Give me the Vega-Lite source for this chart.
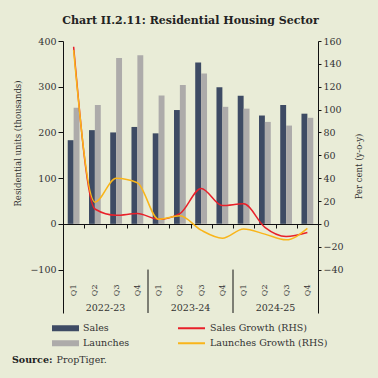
{
  "$schema": "https://vega.github.io/schema/vega-lite/v6.json",
  "width": 255,
  "height": 272,
  "autosize": {"type": "none"},
  "padding": {"left": 63, "top": 41, "right": 60, "bottom": 65},
  "background": "#E9ECD7",
  "title": {"text": "Chart II.2.11: Residential Housing Sector", "font": "DejaVu Serif", "fontSize": 11, "fontWeight": "bold", "color": "#222", "offset": 10, "anchor": "middle"},
  "datasets": {
    "bars": [
      {"q": "2022-23 Q1", "series": "Sales", "value": 183},
      {"q": "2022-23 Q2", "series": "Sales", "value": 205},
      {"q": "2022-23 Q3", "series": "Sales", "value": 200},
      {"q": "2022-23 Q4", "series": "Sales", "value": 212},
      {"q": "2023-24 Q1", "series": "Sales", "value": 198},
      {"q": "2023-24 Q2", "series": "Sales", "value": 249},
      {"q": "2023-24 Q3", "series": "Sales", "value": 353},
      {"q": "2023-24 Q4", "series": "Sales", "value": 299},
      {"q": "2024-25 Q1", "series": "Sales", "value": 280},
      {"q": "2024-25 Q2", "series": "Sales", "value": 237},
      {"q": "2024-25 Q3", "series": "Sales", "value": 260},
      {"q": "2024-25 Q4", "series": "Sales", "value": 241},
      {"q": "2022-23 Q1", "series": "Launches", "value": 254},
      {"q": "2022-23 Q2", "series": "Launches", "value": 260},
      {"q": "2022-23 Q3", "series": "Launches", "value": 363},
      {"q": "2022-23 Q4", "series": "Launches", "value": 369},
      {"q": "2023-24 Q1", "series": "Launches", "value": 281},
      {"q": "2023-24 Q2", "series": "Launches", "value": 304},
      {"q": "2023-24 Q3", "series": "Launches", "value": 329},
      {"q": "2023-24 Q4", "series": "Launches", "value": 256},
      {"q": "2024-25 Q1", "series": "Launches", "value": 252},
      {"q": "2024-25 Q2", "series": "Launches", "value": 223},
      {"q": "2024-25 Q3", "series": "Launches", "value": 215},
      {"q": "2024-25 Q4", "series": "Launches", "value": 232}
    ],
    "growth": [
      {"q": "2022-23 Q1", "series": "Sales Growth (RHS)", "value": 155},
      {"q": "2022-23 Q2", "series": "Sales Growth (RHS)", "value": 13},
      {"q": "2022-23 Q3", "series": "Sales Growth (RHS)", "value": 7.5},
      {"q": "2022-23 Q4", "series": "Sales Growth (RHS)", "value": 9},
      {"q": "2023-24 Q1", "series": "Sales Growth (RHS)", "value": 4},
      {"q": "2023-24 Q2", "series": "Sales Growth (RHS)", "value": 9},
      {"q": "2023-24 Q3", "series": "Sales Growth (RHS)", "value": 31},
      {"q": "2023-24 Q4", "series": "Sales Growth (RHS)", "value": 16},
      {"q": "2024-25 Q1", "series": "Sales Growth (RHS)", "value": 17.5},
      {"q": "2024-25 Q2", "series": "Sales Growth (RHS)", "value": -3},
      {"q": "2024-25 Q3", "series": "Sales Growth (RHS)", "value": -11},
      {"q": "2024-25 Q4", "series": "Sales Growth (RHS)", "value": -7.5},
      {"q": "2022-23 Q1", "series": "Launches Growth (RHS)", "value": 152},
      {"q": "2022-23 Q2", "series": "Launches Growth (RHS)", "value": 19},
      {"q": "2022-23 Q3", "series": "Launches Growth (RHS)", "value": 40},
      {"q": "2022-23 Q4", "series": "Launches Growth (RHS)", "value": 36},
      {"q": "2023-24 Q1", "series": "Launches Growth (RHS)", "value": 4},
      {"q": "2023-24 Q2", "series": "Launches Growth (RHS)", "value": 7},
      {"q": "2023-24 Q3", "series": "Launches Growth (RHS)", "value": -5.5},
      {"q": "2023-24 Q4", "series": "Launches Growth (RHS)", "value": -12.5},
      {"q": "2024-25 Q1", "series": "Launches Growth (RHS)", "value": -4.5},
      {"q": "2024-25 Q2", "series": "Launches Growth (RHS)", "value": -9},
      {"q": "2024-25 Q3", "series": "Launches Growth (RHS)", "value": -14},
      {"q": "2024-25 Q4", "series": "Launches Growth (RHS)", "value": -4}
    ],
    "years": [
      {"q": "2022-23 Q2", "year": "2022-23"},
      {"q": "2023-24 Q2", "year": "2023-24"},
      {"q": "2024-25 Q2", "year": "2024-25"}
    ],
    "seps": [
      {"q": "2023-24 Q1"},
      {"q": "2024-25 Q1"}
    ]
  },
  "layer": [
    {
      "layer": [
        {
          "data": {"name": "bars"},
          "mark": {"type": "bar"},
          "encoding": {
            "x": {"field": "q", "type": "nominal", "sort": null,
                  "scale": {"paddingInner": 0, "paddingOuter": 0},
                  "axis": {"orient": "bottom", "offset": -89, "title": null, "tickBand": "extent", "tickSize": 4, "labelAngle": -90, "labelPadding": 56, "labelFontSize": 8, "labelExpr": "slice(datum.label, -2)", "labelOverlap": false}},
            "xOffset": {"field": "series", "type": "nominal", "sort": ["Sales", "Launches"], "scale": {"paddingOuter": 0.8, "paddingInner": 0}},
            "y": {"field": "value", "type": "quantitative",
                  "scale": {"domain": [-195, 400], "nice": false, "zero": false},
                  "axis": {"orient": "left", "values": [-100, 0, 100, 200, 300, 400], "tickSize": 5, "labelPadding": 2, "labelFontSize": 9.5, "title": "Residential units (thousands)", "titleFontSize": 8.5, "titleX": -41, "titleY": 102}},
            "color": {"field": "series", "type": "nominal",
                      "scale": {"domain": ["Sales", "Launches"], "range": ["#3E4B64", "#ADABAA"]},
                      "legend": {"orient": "none", "legendX": -11, "legendY": 280, "title": null, "direction": "vertical", "symbolType": "M-1,-0.22H1V0.22H-1Z", "symbolSize": 729, "clipHeight": 14.5, "rowPadding": 0, "labelOffset": 4, "symbolStrokeWidth": 0}}
          }
        },
        {
          "data": {"name": "years"},
          "mark": {"type": "text", "fontSize": 9.5, "baseline": "middle", "align": "center", "color": "#333"},
          "encoding": {
            "x": {"field": "q", "type": "nominal", "sort": null, "bandPosition": 1,
                  "scale": {"paddingInner": 0, "paddingOuter": 0},
                  "axis": {"orient": "bottom", "offset": -89, "title": null, "tickBand": "extent", "tickSize": 4, "labelAngle": -90, "labelPadding": 56, "labelFontSize": 8, "labelExpr": "slice(datum.label, -2)", "labelOverlap": false}},
            "y": {"datum": -183},
            "text": {"field": "year"}
          }
        },
        {
          "data": {"name": "seps"},
          "mark": {"type": "rule", "color": "#111", "strokeWidth": 1},
          "encoding": {
            "x": {"field": "q", "type": "nominal", "sort": null, "bandPosition": 0,
                  "scale": {"paddingInner": 0, "paddingOuter": 0},
                  "axis": {"orient": "bottom", "offset": -89, "title": null, "tickBand": "extent", "tickSize": 4, "labelAngle": -90, "labelPadding": 56, "labelFontSize": 8, "labelExpr": "slice(datum.label, -2)", "labelOverlap": false}},
            "y": {"datum": -100},
            "y2": {"datum": -195},
            "opacity": {"datum": "PropTiger.", "type": "nominal",
                        "scale": {"range": [1]},
                        "legend": {"orient": "none", "legendX": -51, "legendY": 313, "title": "Source:", "titleOrient": "left", "titleFontWeight": "bold", "titleFont": "DejaVu Serif", "titleFontSize": 9.5, "titleColor": "#222", "titlePadding": 3, "symbolSize": 0, "symbolOpacity": 0, "labelOffset": -9, "clipHeight": 12}}
          }
        }
      ]
    },
    {
      "data": {"name": "growth"},
      "mark": {"type": "line", "interpolate": "monotone", "strokeWidth": 1.5},
      "encoding": {
        "x": {"field": "q", "type": "nominal", "sort": null,
              "scale": {"paddingInner": 0, "paddingOuter": 0},
              "axis": {"orient": "bottom", "offset": -89, "title": null, "tickBand": "extent", "tickSize": 4, "labelAngle": -90, "labelPadding": 56, "labelFontSize": 8, "labelExpr": "slice(datum.label, -2)", "labelOverlap": false}},
        "y": {"field": "value", "type": "quantitative",
              "scale": {"domain": [-78, 160], "nice": false, "zero": false},
              "axis": {"orient": "right", "values": [-40, -20, 0, 20, 40, 60, 80, 100, 120, 140, 160], "tickSize": 3, "labelPadding": 2, "labelFontSize": 9.5, "title": "Per cent (y-o-y)", "titleFontSize": 8.5, "titleAngle": 270, "titleX": 45, "titleY": 125}},
        "stroke": {"field": "series", "type": "nominal",
                   "scale": {"domain": ["Sales Growth (RHS)", "Launches Growth (RHS)"], "range": ["#E8202A", "#F9B51A"]},
                   "legend": {"orient": "none", "legendX": 114, "legendY": 280, "title": null, "direction": "vertical", "symbolType": "stroke", "symbolSize": 729, "symbolStrokeWidth": 2, "clipHeight": 14.5, "rowPadding": 0, "labelOffset": 4}}
      }
    }
  ],
  "resolve": {"scale": {"y": "independent"}},
  "config": {
    "view": {"stroke": null},
    "font": "DejaVu Serif",
    "axis": {"labelFont": "DejaVu Serif", "titleFont": "DejaVu Serif", "labelColor": "#333", "titleColor": "#333", "domainColor": "#111", "tickColor": "#111", "grid": false, "titleFontWeight": "normal"},
    "legend": {"labelFont": "DejaVu Serif", "labelFontSize": 9.5, "labelColor": "#333", "padding": 0}
  }
}
